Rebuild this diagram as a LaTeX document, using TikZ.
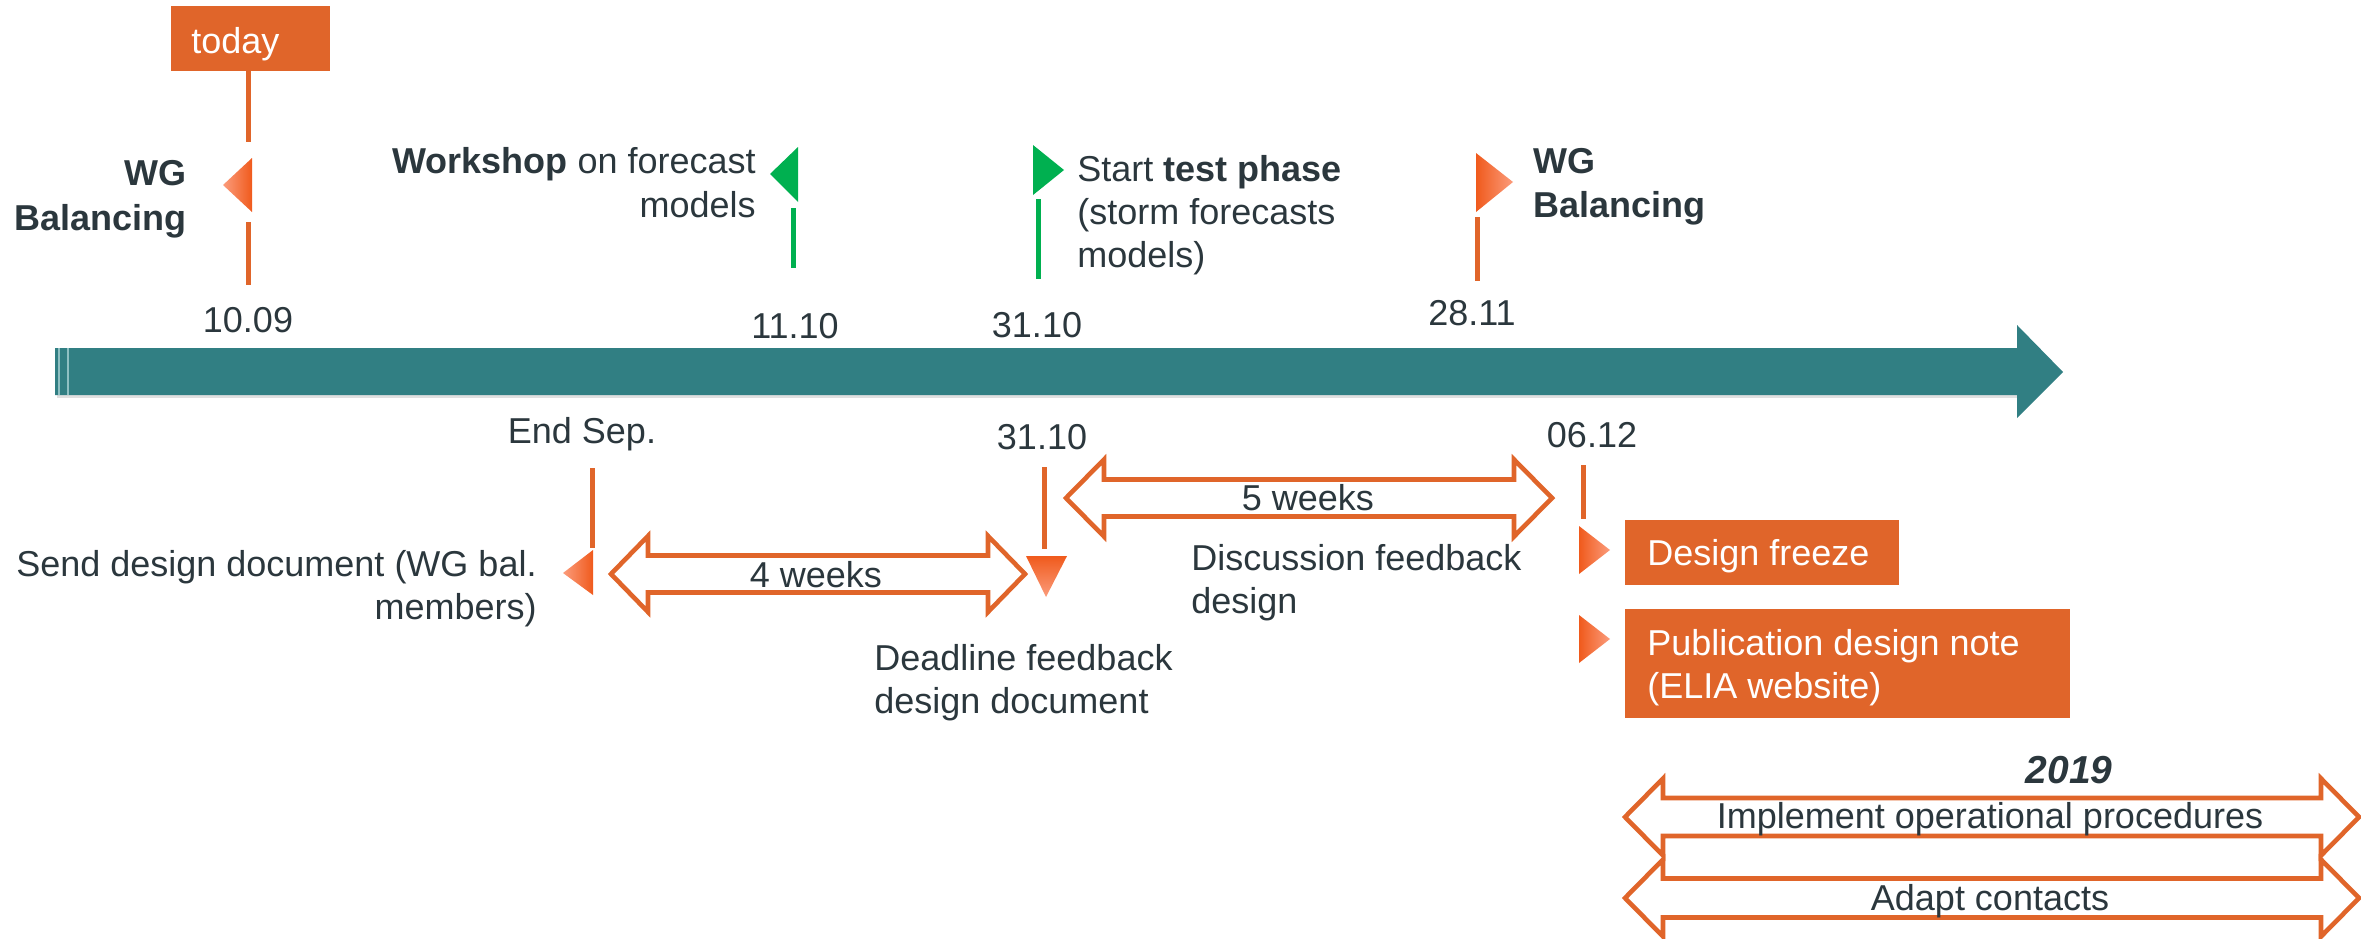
\documentclass[tikz,border=0pt]{standalone}
\usepackage{fontspec}
\setmainfont{Liberation Sans}
\definecolor{eorange}{HTML}{E0652A}
\definecolor{eteal}{HTML}{317F83}
\definecolor{etealL}{HTML}{8FC0C2}
\definecolor{etext}{HTML}{2B373D}
\definecolor{egreen}{HTML}{00B050}
\definecolor{flagdark}{HTML}{F05A1C}
\definecolor{flaglight}{HTML}{FB9C7C}
\newcommand{\dbarrow}[6]{%
  \draw[dblarr] (#1,#3) -- ({#1+#6},{#3-#4}) -- ({#1+#6},{#3-#5}) -- ({#2-#6},{#3-#5}) -- ({#2-#6},{#3-#4}) -- (#2,#3) -- ({#2-#6},{#3+#4}) -- ({#2-#6},{#3+#5}) -- ({#1+#6},{#3+#5}) -- ({#1+#6},{#3+#4}) -- cycle;}
\begin{document}
\begin{tikzpicture}[x=0.5pt,y=-0.5pt,
  txt/.style={text=etext, inner sep=0pt, font=\fontsize{18}{21.5}\selectfont},
  wtxt/.style={text=white, inner sep=0pt, font=\fontsize{18}{21.5}\selectfont},
  obox/.style={fill=eorange, draw=none, inner sep=0pt},
  oline/.style={draw=eorange, line width=2.5pt},
  gline/.style={draw=egreen, line width=2.5pt},
  dblarr/.style={draw=eorange, line width=2.3pt, fill=white, line join=miter},
]
\useasboundingbox (0,0) rectangle (2361,938);

% timeline bar
\fill[black!12] (57,351) rectangle (2019,398);
\fill[eteal] (55,348) -- (2017,348) -- (2017,325) -- (2063,372) -- (2017,418) -- (2017,395) -- (55,395) -- cycle;
\draw[etealL, line width=0.6pt] (59,348) -- (59,395);
\draw[etealL, line width=0.6pt] (68,348) -- (68,395);

% ---------- 10.09 / today ----------
\node[obox, minimum width=79.5pt, minimum height=32.5pt] (todaybox) at (250.5,38.5) {};
\node[wtxt, anchor=base west] (todaytxt) at (191,53) {today};
\coordinate (t1) at (248,142);
\draw[oline] (todaybox.south -| t1) -- (t1);
\shade[left color=flaglight, right color=flagdark] (252,158) -- (252,212) -- (223,185) -- cycle;
\coordinate (t2a) at (248,222);
\coordinate (t2b) at (248,285);
\draw[oline] (t2a) -- (t2b);
\node[txt, font=\fontsize{18}{22.5}\selectfont\bfseries, align=right, anchor=base east] (wg1) at (187,230) {WG\\Balancing};
\node[txt, anchor=base] (d1009) at (248,332) {10.09};

% ---------- 11.10 workshop ----------
\fill[egreen] (798,147) -- (798,202) -- (770,174) -- cycle;
\coordinate (w1) at (793,208);
\coordinate (w2) at (793,268);
\draw[gline] (w1) -- (w2);
\node[txt, font=\fontsize{18}{22}\selectfont, align=right, anchor=base east] (workshop) at (756,217) {\textbf{Workshop} on forecast\\models};
\node[txt, anchor=base] (d1110) at (795,338) {11.10};

% ---------- 31.10 test phase ----------
\fill[egreen] (1033,145) -- (1033,195) -- (1064,170) -- cycle;
\coordinate (s1) at (1038,199);
\coordinate (s2) at (1038,279);
\draw[gline] (s1) -- (s2);
\node[txt, align=left, anchor=base west] (testphase) at (1077,267) {Start \textbf{test phase}\\(storm forecasts\\models)};
\node[txt, anchor=base] (d3110a) at (1037,337) {31.10};

% ---------- 28.11 ----------
\shade[left color=flagdark, right color=flaglight] (1476,153) -- (1476,212) -- (1513,182) -- cycle;
\coordinate (b1) at (1477,217);
\coordinate (b2) at (1477,281);
\draw[oline] (b1) -- (b2);
\node[txt, anchor=base] (d2811) at (1472,325) {28.11};
\node[txt, font=\fontsize{18}{22}\selectfont\bfseries, align=left, anchor=base west] (wg2) at (1533,217) {WG\\Balancing};

% ---------- End Sep. ----------
\node[txt, anchor=base] (endsep) at (582,443) {End Sep.};
\coordinate (e1) at (592,468);
\coordinate (e2) at (592,548);
\draw[oline] (e1) -- (e2);
\shade[left color=flaglight, right color=flagdark] (593,550) -- (593,595) -- (563,573) -- cycle;
\node[txt, align=right, anchor=base east] (send) at (537,619) {Send design document (WG bal.\\members)};

% 4 weeks
\dbarrow{611}{1025}{574}{38}{18.5}{37}
\node[txt, anchor=base] (w4) at (816,587) {4 weeks};

% ---------- 31.10 deadline ----------
\node[txt, anchor=base] (d3110b) at (1042,449) {31.10};
\coordinate (l1) at (1044,467);
\coordinate (l2) at (1044,549);
\draw[oline] (l1) -- (l2);
\shade[top color=flagdark, bottom color=flaglight] (1026,556) -- (1067,556) -- (1046,597) -- cycle;
\node[txt, align=left, anchor=base west] (deadline) at (874,713) {Deadline feedback\\design document};

% 5 weeks
\dbarrow{1066}{1552}{498}{38.5}{18.5}{38}
\node[txt, anchor=base] (w5) at (1308,510) {5 weeks};
\node[txt, align=left, anchor=base west] (discussion) at (1191,613) {Discussion feedback\\design};

% ---------- 06.12 ----------
\node[txt, anchor=base] (d0612) at (1592,447) {06.12};
\coordinate (f1) at (1583,465);
\coordinate (f2) at (1583,519);
\draw[oline] (f1) -- (f2);
\shade[left color=flagdark, right color=flaglight] (1579,526) -- (1579,574) -- (1610,550) -- cycle;
\shade[left color=flagdark, right color=flaglight] (1579,615) -- (1579,663) -- (1610,639) -- cycle;
\node[obox, minimum width=137pt, minimum height=32.5pt] (freezebox) at (1762,552.5) {};
\node[wtxt, anchor=base west] (freeze) at (1647,565) {Design freeze};
\node[obox, minimum width=222.5pt, minimum height=54.5pt] (pubbox) at (1847.5,663.5) {};
\node[wtxt, align=left, anchor=base west] (pub) at (1647,698) {Publication design note\\(ELIA website)};

% ---------- 2019 ----------
\node[txt, font=\fontsize{19.5}{21.5}\selectfont\bfseries\itshape, anchor=base] (y2019) at (2069,783) {2019};
\dbarrow{1625}{2359}{817}{38.5}{19}{38}
\node[txt, anchor=base] (impl) at (1990,828) {Implement operational procedures};
\dbarrow{1625}{2359}{898}{38.5}{19.5}{38}
\node[txt, anchor=base] (adapt) at (1990,910) {Adapt contacts};
\end{tikzpicture}
\end{document}
